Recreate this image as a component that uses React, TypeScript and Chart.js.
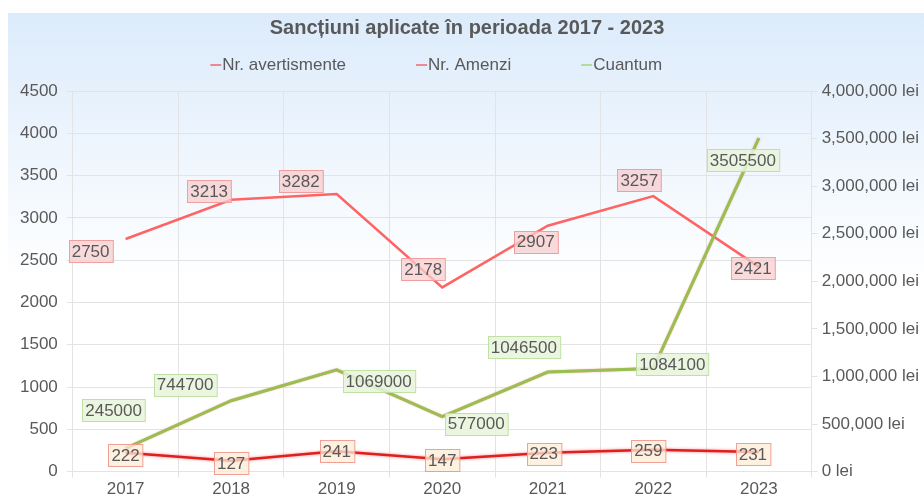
import React, { useEffect, useRef } from 'react';
import { Chart, registerables } from 'chart.js';

Chart.register(...registerables);

const years = ['2017', '2018', '2019', '2020', '2021', '2022', '2023'];
const avertismente = [2750, 3213, 3282, 2178, 2907, 3257, 2421];
const amenzi = [222, 127, 241, 147, 223, 259, 231];
const cuantum = [245000, 744700, 1069000, 577000, 1046500, 1084100, 3505500];
const seriesNames = ['Nr. avertismente', 'Nr. Amenzi', 'Cuantum'];
const leftMax = 4500;
const leftStep = 500;
const rightMax = 4000000;
const rightStep = 500000;
const titleText = 'Sancțiuni aplicate în perioada 2017 - 2023';

// label offsets (px) relative to each point, per series
const labelOffsets: number[][][] = [
  [[-35, 12], [-22, -9], [-36, -13], [-19, -18], [-12, 16], [-14, -16], [-6, 1]],
  [[0, 2], [0, 2], [0, 0], [0, 1], [-4, 1], [-5, 1], [-6, 2]],
  [[-12, -38], [-46, -16], [42, 11], [34, 7], [-24, -25], [19, -4], [-16, 22]],
];
const labelStyles = [
  { bg: 'rgba(248,205,205,0.75)', border: 'rgba(240,150,150,0.9)' },
  { bg: 'rgba(253,236,214,0.75)', border: 'rgba(240,150,140,0.9)' },
  { bg: 'rgba(232,244,220,0.85)', border: 'rgba(190,222,160,0.95)' },
];
const lineColors = ['#ff6464', '#dd2020', '#96c050'];
const legendColors = ['#ee4444', '#ee4444', '#8fce5a'];
const FONT = '"Liberation Sans", Arial, sans-serif';
const TEXT = '#595959';

const bgPlugin = {
  id: 'bgGrad',
  beforeDraw(chart: any) {
    const { ctx, width, height } = chart;
    const g = ctx.createLinearGradient(0, 0, 0, height);
    g.addColorStop(0, '#dcebfb');
    g.addColorStop(0.55, '#ffffff');
    g.addColorStop(1, '#ffffff');
    ctx.save();
    ctx.fillStyle = g;
    ctx.fillRect(0, 0, width, height);
    ctx.restore();
  },
};

const glowPlugin = {
  id: 'glow',
  beforeDatasetDraw(chart: any, args: any) {
    const ctx = chart.ctx;
    ctx.save();
    if (args.index === 1) {
      ctx.shadowColor = 'rgba(255,120,120,0.9)';
      ctx.shadowBlur = 3;
    } else if (args.index === 2) {
      ctx.shadowColor = 'rgba(255,110,110,0.7)';
      ctx.shadowBlur = 1.5;
    }
  },
  afterDatasetDraw(chart: any) {
    chart.ctx.restore();
  },
};

const labelPlugin = {
  id: 'boxLabels',
  afterDatasetsDraw(chart: any) {
    const ctx = chart.ctx;
    ctx.save();
    ctx.font = `17px ${FONT}`;
    ctx.textAlign = 'center';
    ctx.textBaseline = 'middle';
    [0, 1, 2].forEach((di) => {
      const meta = chart.getDatasetMeta(di);
      const data = chart.data.datasets[di].data as number[];
      meta.data.forEach((pt: any, i: number) => {
        const text = String(data[i]);
        const [dx, dy] = labelOffsets[di][i];
        const cx = pt.x + dx;
        const cy = pt.y + dy;
        const w = ctx.measureText(text).width + 6;
        const h = 22;
        const x0 = Math.round(cx - w / 2) + 0.5;
        const y0 = Math.round(cy - h / 2) + 0.5;
        ctx.fillStyle = labelStyles[di].bg;
        ctx.fillRect(x0, y0, w, h);
        ctx.strokeStyle = labelStyles[di].border;
        ctx.lineWidth = 1;
        ctx.strokeRect(x0, y0, w, h);
        ctx.fillStyle = TEXT;
        ctx.fillText(text, cx, cy + 1);
      });
    });
    ctx.restore();
  },
};

const legendPlugin = {
  id: 'customLegend',
  afterDraw(chart: any) {
    const ctx = chart.ctx;
    const area = chart.chartArea;
    ctx.save();
    ctx.font = `17px ${FONT}`;
    ctx.textBaseline = 'middle';
    ctx.textAlign = 'left';
    const lineLen = 11;
    const gap = 70;
    const widths = seriesNames.map((n) => lineLen + 1 + ctx.measureText(n).width);
    const total = widths.reduce((a, b) => a + b, 0) + gap * (seriesNames.length - 1);
    let x = (area.left + area.right) / 2 - total / 2 - 6;
    const y = 51;
    seriesNames.forEach((n, i) => {
      ctx.strokeStyle = legendColors[i];
      ctx.lineWidth = 1.2;
      ctx.beginPath();
      ctx.moveTo(x, y + 1);
      ctx.lineTo(x + lineLen, y + 1);
      ctx.stroke();
      ctx.fillStyle = TEXT;
      ctx.fillText(n, x + lineLen + 1, y + 1);
      x += widths[i] + gap;
    });
    ctx.restore();
  },
};

export default function App() {
  const ref = useRef<HTMLCanvasElement>(null);
  useEffect(() => {
    if (!ref.current) return;
    const chart = new Chart(ref.current, {
      type: 'line',
      data: {
        labels: years,
        datasets: [
          {
            label: seriesNames[0],
            data: avertismente,
            borderColor: lineColors[0],
            borderWidth: 2.5,
            pointRadius: 0,
            yAxisID: 'y',
            order: 2,
          },
          {
            label: seriesNames[1],
            data: amenzi,
            borderColor: lineColors[1],
            borderWidth: 2.5,
            pointRadius: 0,
            yAxisID: 'y',
            order: 1,
          },
          {
            label: seriesNames[2],
            data: cuantum,
            borderColor: lineColors[2],
            borderWidth: 3,
            pointRadius: 0,
            yAxisID: 'y1',
            order: 0,
          },
        ],
      },
      options: {
        responsive: false,
        animation: false,
        layout: { padding: { left: 3, right: 1, top: 0, bottom: -5 } },
        plugins: {
          legend: { display: false },
          tooltip: { enabled: false },
          title: {
            display: true,
            text: titleText,
            color: TEXT,
            font: { family: FONT, size: 20, weight: 'bold' },
            padding: { top: 3, bottom: 51 },
          },
        },
        scales: {
          x: {
            offset: true,
            grid: { color: '#e3e3e3', offset: true, tickLength: 6 },
            border: { color: '#e3e3e3' },
            ticks: { color: TEXT, font: { family: FONT, size: 17 }, padding: 2 },
          },
          y: {
            position: 'left',
            min: 0,
            max: leftMax,
            ticks: {
              stepSize: leftStep,
              color: TEXT,
              font: { family: FONT, size: 17 },
              padding: 9,
              callback: (v: any) => String(v),
            },
            grid: { color: '#e3e3e3', tickLength: 6 },
            border: { color: '#e3e3e3' },
          },
          y1: {
            position: 'right',
            min: 0,
            max: rightMax,
            ticks: {
              stepSize: rightStep,
              color: TEXT,
              font: { family: FONT, size: 17 },
              padding: 4,
              callback: (v: any) => Number(v).toLocaleString('en-US') + ' lei',
            },
            grid: { drawOnChartArea: false, color: '#e3e3e3', tickLength: 6 },
            border: { color: '#e3e3e3' },
          },
        },
      },
      plugins: [bgPlugin, glowPlugin, labelPlugin, legendPlugin],
    });
    return () => chart.destroy();
  }, []);
  return (
    <div style={{ position: 'absolute', left: 8, top: 13, width: 916, height: 484 }}>
      <canvas ref={ref} width={916} height={484} style={{ display: 'block' }} />
    </div>
  );
}
